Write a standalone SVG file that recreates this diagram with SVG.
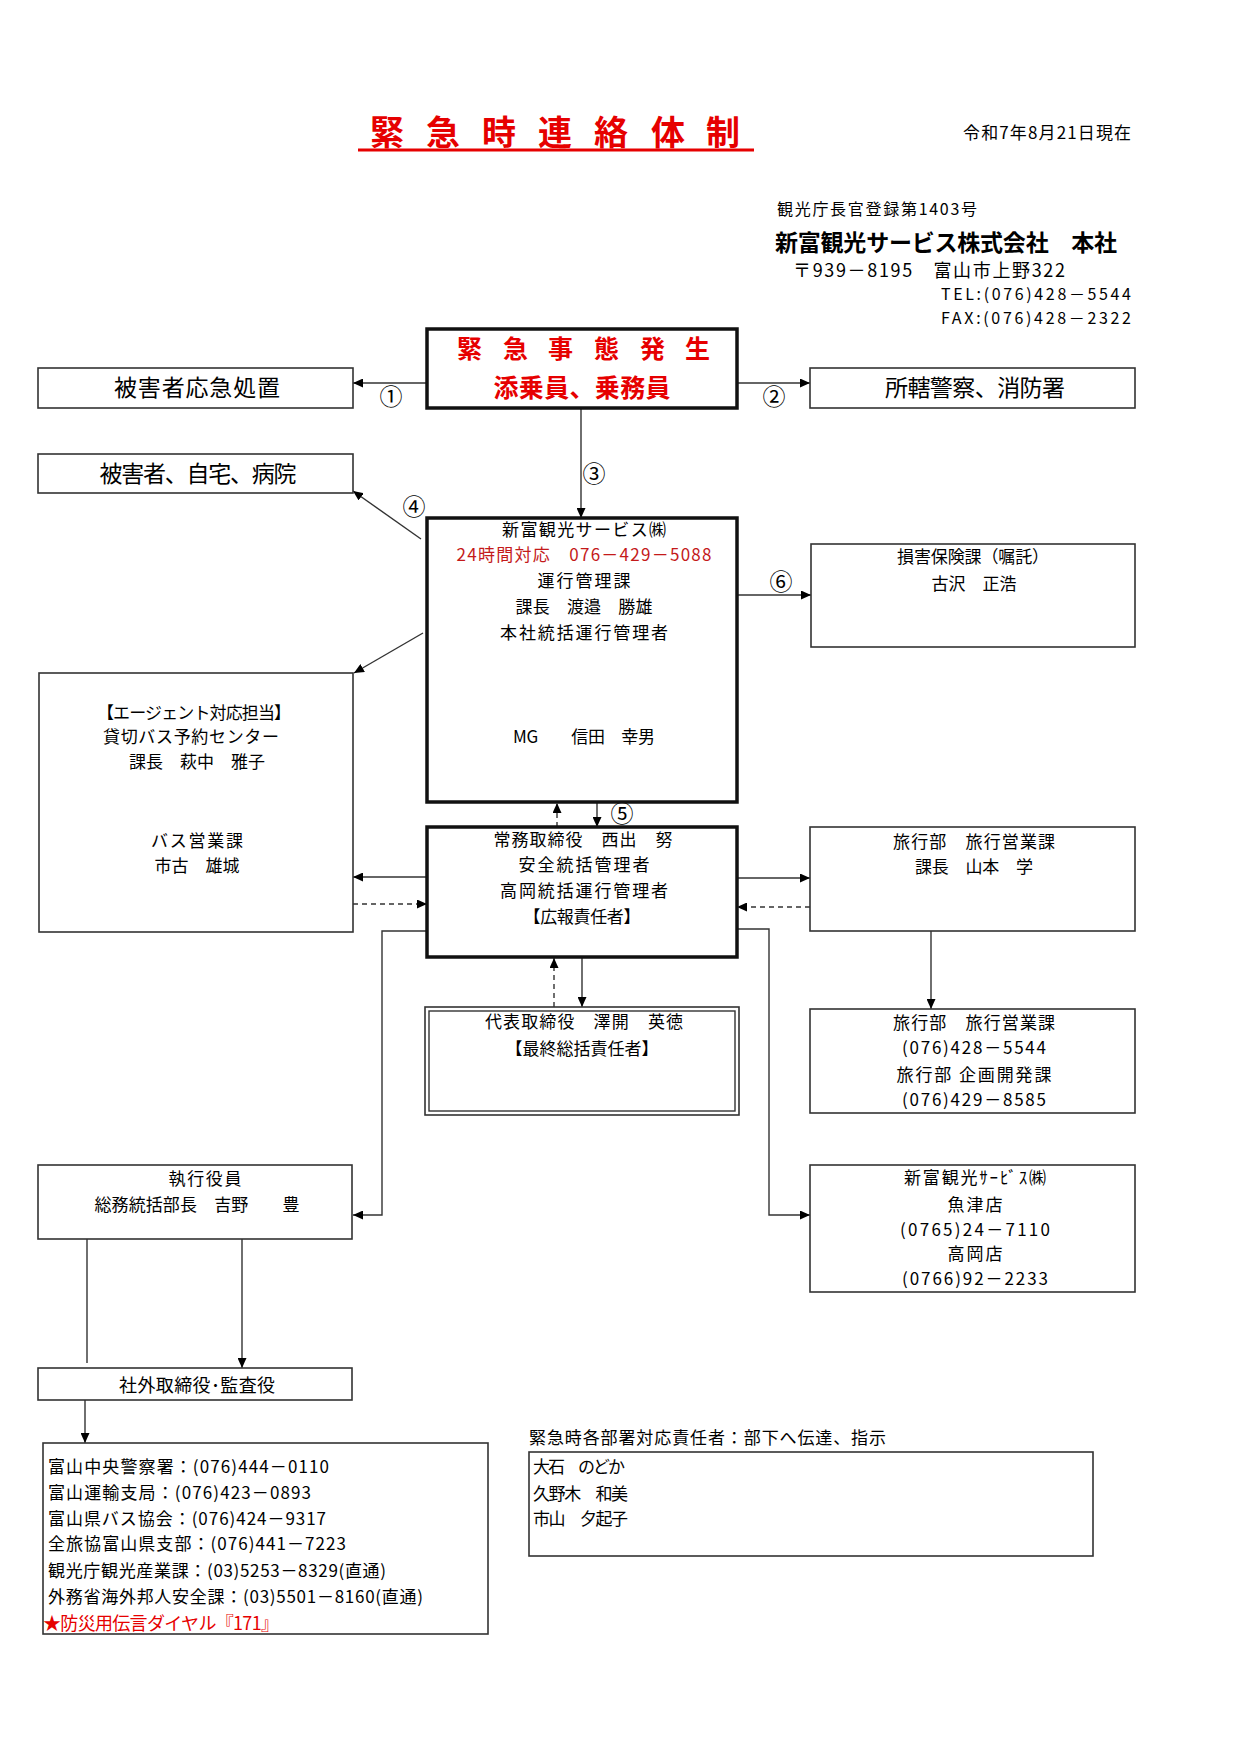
<svg xmlns="http://www.w3.org/2000/svg" width="1240" height="1754" viewBox="0 0 1240 1754">
<style>
text{font-family:"Noto Sans CJK JP","Noto Sans",sans-serif;fill:#000;}
.m{text-anchor:middle;}
.s17{font-size:17px;}
.s16{font-size:16px;}
.s18{font-size:18px;}
.s23{font-size:23px;}
.num{font-size:23px;text-anchor:middle;}
.red{fill:#e60000;}
.dred{fill:#c41a1a;}
.b{font-weight:bold;}
.box{fill:#fff;stroke:#333;stroke-width:1.6;}
.thick{fill:#fff;stroke:#111;stroke-width:3.5;}
.c{fill:none;stroke:#333;stroke-width:1.4;}
.d{stroke-dasharray:5 4;}
</style>
<defs>
<marker id="ah" markerWidth="10" markerHeight="9" refX="10" refY="4.5" orient="auto" markerUnits="userSpaceOnUse">
<path d="M0,0 L10,4.5 L0,9 z" fill="#000"/>
</marker>
</defs>
<rect width="1240" height="1754" fill="#fff"/>

<g id="header">
<text class="red b" font-size="34" x="370 426 482 538 594 651 706" y="145">緊急時連絡体制</text>
<line x1="358" y1="150" x2="754" y2="150" stroke="#e60000" stroke-width="3"/>
<text class="s17" x="963" y="139" textLength="168">令和7年8月21日現在</text>
<text class="s16" x="777" y="215" textLength="200">観光庁長官登録第1403号</text>
<text class="b" font-size="23" x="775" y="251" textLength="342">新富観光サービス株式会社　本社</text>
<text class="s18" x="793" y="277" textLength="272">〒939－8195　富山市上野322</text>
<text class="s16" x="941" y="300" textLength="190">TEL:(076)428－5544</text>
<text class="s16" x="941" y="324" textLength="190">FAX:(076)428－2322</text>
</g>

<g id="connectors">
<line class="c" x1="427" y1="383" x2="353" y2="383" marker-end="url(#ah)"/>
<line class="c" x1="737" y1="383" x2="810" y2="383" marker-end="url(#ah)"/>
<line class="c" x1="581" y1="408" x2="581" y2="518" marker-end="url(#ah)"/>
<line class="c" x1="421" y1="539" x2="353" y2="491" marker-end="url(#ah)"/>
<line class="c" x1="423" y1="633" x2="354" y2="673" marker-end="url(#ah)"/>
<line class="c" x1="737" y1="595" x2="811" y2="595" marker-end="url(#ah)"/>
<line class="c d" x1="557" y1="827" x2="557" y2="803" marker-end="url(#ah)"/>
<line class="c" x1="597" y1="802" x2="597" y2="827" marker-end="url(#ah)"/>
<line class="c" x1="427" y1="877" x2="353" y2="877" marker-end="url(#ah)"/>
<line class="c d" x1="353" y1="904" x2="427" y2="904" marker-end="url(#ah)"/>
<polyline class="c" points="427,931 382,931 382,1215 353,1215" marker-end="url(#ah)"/>
<line class="c" x1="737" y1="878" x2="810" y2="878" marker-end="url(#ah)"/>
<line class="c d" x1="810" y1="907" x2="737" y2="907" marker-end="url(#ah)"/>
<polyline class="c" points="737,929 769,929 769,1215 810,1215" marker-end="url(#ah)"/>
<line class="c" x1="931" y1="931" x2="931" y2="1009" marker-end="url(#ah)"/>
<line class="c d" x1="554" y1="1007" x2="554" y2="958" marker-end="url(#ah)"/>
<line class="c" x1="582" y1="957" x2="582" y2="1007" marker-end="url(#ah)"/>
<line class="c" x1="87" y1="1239" x2="87" y2="1363"/>
<line class="c" x1="242" y1="1239" x2="242" y2="1368" marker-end="url(#ah)"/>
<line class="c" x1="85" y1="1400" x2="85" y2="1443" marker-end="url(#ah)"/>
<text class="num" x="391" y="405">①</text>
<text class="num" x="774" y="405">②</text>
<text class="num" x="594" y="482">③</text>
<text class="num" x="414" y="515">④</text>
<text class="num" x="622" y="822">⑤</text>
<text class="num" x="781" y="590">⑥</text>
</g>

<g id="emergency">
<rect class="thick" x="427" y="329" width="310" height="79"/>
<text class="red b" font-size="25" x="457 503 548 594 640 685" y="358">緊急事態発生</text>
<text class="red b m" font-size="25" x="582" y="397" textLength="177">添乗員、乗務員</text>
</g>

<g id="first-aid">
<rect class="box" x="38" y="368" width="315" height="40"/>
<text class="s23 m" x="197" y="396" textLength="166">被害者応急処置</text>
</g>

<g id="police">
<rect class="box" x="810" y="368" width="325" height="40"/>
<text class="s23 m" x="975" y="396" textLength="180">所轄警察、消防署</text>
</g>

<g id="victims">
<rect class="box" x="38" y="454" width="315" height="39"/>
<text class="s23 m" x="198" y="482" textLength="197">被害者、自宅、病院</text>
</g>

<g id="hq">
<rect class="thick" x="427" y="518" width="310" height="284"/>
<text class="s17 m" x="584" y="536" textLength="164">新富観光サービス㈱</text>
<text class="s17 m dred" x="584" y="561" textLength="255">24時間対応　076－429－5088</text>
<text class="s17 m" x="584" y="587" textLength="93">運行管理課</text>
<text class="s17 m" x="584" y="613" textLength="137">課長　渡邉　勝雄</text>
<text class="s17 m" x="584" y="639" textLength="168">本社統括運行管理者</text>
<text class="s17 m" x="584" y="743" textLength="142">MG　　信田　幸男</text>
</g>

<g id="insurance">
<rect class="box" x="811" y="544" width="324" height="103"/>
<text class="s17 m" x="973" y="563" textLength="152">損害保険課（嘱託）</text>
<text class="s17 m" x="974" y="590" textLength="85">古沢　正浩</text>
</g>

<g id="bus">
<rect class="box" x="39" y="673" width="314" height="259"/>
<text class="s17 m" x="194" y="719" textLength="194">【エージェント対応担当】</text>
<text class="s17 m" x="191" y="743" textLength="176">貸切バス予約センター</text>
<text class="s17 m" x="197" y="768" textLength="136">課長　萩中　雅子</text>
<text class="s17 m" x="197" y="847" textLength="92">バス営業課</text>
<text class="s17 m" x="197" y="872" textLength="85">市古　雄城</text>
</g>

<g id="managing-director">
<rect class="thick" x="427" y="827" width="310" height="130"/>
<text class="s17 m" x="583" y="846" textLength="179">常務取締役　西出　努</text>
<text class="s17 m" x="584" y="871" textLength="131">安全統括管理者</text>
<text class="s17 m" x="584" y="897" textLength="168">高岡統括運行管理者</text>
<text class="s17 m" x="582" y="923" textLength="117">【広報責任者】</text>
</g>

<g id="travel-sales">
<rect class="box" x="810" y="827" width="325" height="104"/>
<text class="s17 m" x="974" y="848" textLength="162">旅行部　旅行営業課</text>
<text class="s17 m" x="974" y="873" textLength="118">課長　山本　学</text>
</g>

<g id="travel-contacts">
<rect class="box" x="810" y="1009" width="325" height="104"/>
<text class="s17 m" x="974" y="1029" textLength="162">旅行部　旅行営業課</text>
<text class="s17 m" x="974" y="1054" textLength="144">(076)428－5544</text>
<text class="s17 m" x="974" y="1081" textLength="155">旅行部 企画開発課</text>
<text class="s17 m" x="974" y="1106" textLength="144">(076)429－8585</text>
</g>

<g id="president">
<rect class="box" x="425" y="1007" width="314" height="108"/>
<rect fill="none" stroke="#333" stroke-width="1.4" x="429" y="1011" width="306" height="100"/>
<text class="s17 m" x="584" y="1028" textLength="198">代表取締役　澤開　英徳</text>
<text class="s17 m" x="582" y="1055" textLength="153">【最終総括責任者】</text>
</g>

<g id="branches">
<rect class="box" x="810" y="1165" width="325" height="127"/>
<text class="s17 m" x="975" y="1184" textLength="142">新富観光ｻｰﾋﾞｽ㈱</text>
<text class="s17 m" x="975" y="1211" textLength="55">魚津店</text>
<text class="s17 m" x="975" y="1236" textLength="150">(0765)24－7110</text>
<text class="s17 m" x="975" y="1260" textLength="55">高岡店</text>
<text class="s17 m" x="975" y="1285" textLength="146">(0766)92－2233</text>
</g>

<g id="executive">
<rect class="box" x="38" y="1165" width="314" height="74"/>
<text class="s17 m" x="205" y="1185" textLength="73">執行役員</text>
<text class="s17 m" x="197" y="1211" textLength="205">総務統括部長　吉野　　豊</text>
</g>

<g id="outside-directors">
<rect class="box" x="38" y="1368" width="314" height="32"/>
<text class="s18 m" x="197" y="1392" textLength="156">社外取締役･監査役</text>
</g>

<g id="external-contacts">
<rect class="box" x="43" y="1443" width="445" height="191"/>
<text class="s17" x="48" y="1473" textLength="281">富山中央警察署：(076)444－0110</text>
<text class="s17" x="48" y="1499" textLength="263">富山運輸支局：(076)423－0893</text>
<text class="s17" x="48" y="1525" textLength="278">富山県バス協会：(076)424－9317</text>
<text class="s17" x="48" y="1550" textLength="298">全旅協富山県支部：(076)441－7223</text>
<text class="s17" x="48" y="1577" textLength="338">観光庁観光産業課：(03)5253－8329(直通)</text>
<text class="s17" x="48" y="1603" textLength="375">外務省海外邦人安全課：(03)5501－8160(直通)</text>
<text class="red" font-size="18" x="43" y="1630" textLength="236">★防災用伝言ダイヤル『171』</text>
</g>

<g id="dept-leads">
<text class="s17" x="529" y="1444" textLength="357">緊急時各部署対応責任者：部下へ伝達、指示</text>
<rect class="box" x="529" y="1452" width="564" height="104"/>
<text class="s17" x="533" y="1473" textLength="92">大石　のどか</text>
<text class="s17" x="533" y="1500" textLength="95">久野木　和美</text>
<text class="s17" x="533" y="1525" textLength="95">市山　夕起子</text>
</g>
</svg>
